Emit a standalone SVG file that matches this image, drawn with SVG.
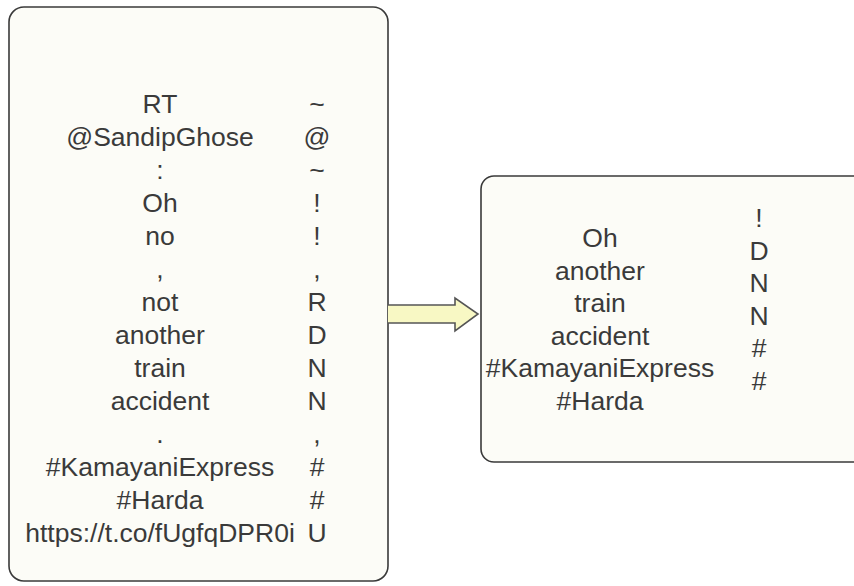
<svg xmlns="http://www.w3.org/2000/svg" width="854" height="586" viewBox="0 0 854 586">
<style>
.box{fill:#fcfcf7;stroke:#3a3a3a;stroke-width:1.6}
.t{font-family:"Liberation Sans",Arial,sans-serif;font-size:26.5px;fill:#3a3a3a;text-anchor:middle}
.conn{fill:#f8f8c4;stroke:#555;stroke-width:1.6;stroke-linejoin:miter}
</style>
<rect width="854" height="586" fill="#fff"/>
<g id="node-source">
<rect class="box" x="9" y="7" width="379" height="574" rx="15" ry="15"/>
<text class="t" x="160" y="113">RT</text>
<text class="t" x="160" y="146">@SandipGhose</text>
<text class="t" x="160" y="179">:</text>
<text class="t" x="160" y="212">Oh</text>
<text class="t" x="160" y="245">no</text>
<text class="t" x="160" y="278">,</text>
<text class="t" x="160" y="311">not</text>
<text class="t" x="160" y="344">another</text>
<text class="t" x="160" y="377">train</text>
<text class="t" x="160" y="410">accident</text>
<text class="t" x="160" y="443">.</text>
<text class="t" x="160" y="476">#KamayaniExpress</text>
<text class="t" x="160" y="509">#Harda</text>
<text class="t" x="160" y="542">https://t.co/fUgfqDPR0i</text>
<text class="t" x="317" y="113">~</text>
<text class="t" x="317" y="146">@</text>
<text class="t" x="317" y="179">~</text>
<text class="t" x="317" y="212">!</text>
<text class="t" x="317" y="245">!</text>
<text class="t" x="317" y="278">,</text>
<text class="t" x="317" y="311">R</text>
<text class="t" x="317" y="344">D</text>
<text class="t" x="317" y="377">N</text>
<text class="t" x="317" y="410">N</text>
<text class="t" x="317" y="443">,</text>
<text class="t" x="317" y="476">#</text>
<text class="t" x="317" y="509">#</text>
<text class="t" x="317" y="542">U</text>
</g>
<g id="node-result">
<rect class="box" x="481" y="176" width="385" height="286" rx="13" ry="13"/>
<text class="t" x="600" y="247">Oh</text>
<text class="t" x="600" y="279.5">another</text>
<text class="t" x="600" y="312">train</text>
<text class="t" x="600" y="344.5">accident</text>
<text class="t" x="600" y="377">#KamayaniExpress</text>
<text class="t" x="600" y="409.5">#Harda</text>
<text class="t" x="759" y="227">!</text>
<text class="t" x="759" y="259.5">D</text>
<text class="t" x="759" y="292">N</text>
<text class="t" x="759" y="324.5">N</text>
<text class="t" x="759" y="357">#</text>
<text class="t" x="759" y="389.5">#</text>
</g>
<g id="connectors">
<path class="conn" d="M388,305 L455,305 L455,298 L478,314 L455,331 L455,323 L388,323"/>
</g>
</svg>
